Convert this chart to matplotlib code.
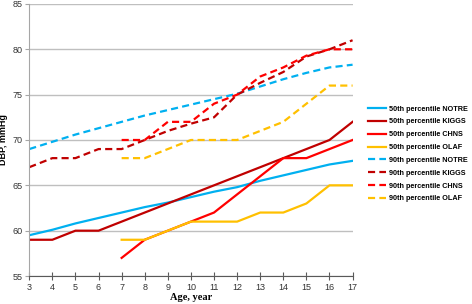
import numpy as np
import matplotlib.pyplot as plt

# ages
age = list(range(3, 18))
age7 = list(range(7, 18))

# 50th percentile
p50_notre = [59.5, 60.1, 60.8, 61.4, 62.0, 62.6, 63.1, 63.7, 64.3, 64.8, 65.5, 66.1, 66.7, 67.3, 67.7]
p50_kiggs = [59, 59, 60, 60, 61, 62, 63, 64, 65, 66, 67, 68, 69, 70, 72]
p50_chns = [57, 59, 60, 61, 62, 64, 66, 68, 68, 69, 70]
p50_olaf = [59, 59, 60, 61, 61, 61, 62, 62, 63, 65, 65]

# 90th percentile
p90_notre = [69, 69.8, 70.6, 71.3, 72.0, 72.7, 73.3, 73.9, 74.5, 75.1, 75.9, 76.7, 77.4, 78.0, 78.3]
p90_kiggs = [67, 68, 68, 69, 69, 70, 71, 71.8, 72.5, 75, 76.3, 77.5, 79.2, 80, 81]
p90_chns = [70, 70, 72, 72, 74, 75, 77, 78, 79.3, 80, 80]
p90_olaf = [68, 68, 69, 70, 70, 70, 71, 72, 74, 76, 76]

c_notre = '#00b0f0'
c_kiggs = '#c00000'
c_chns = '#ff0000'
c_olaf = '#ffc000'

plt.rcParams['font.family'] = 'Liberation Sans'

fig = plt.figure(figsize=(4.72, 3.04), dpi=100)
ax = fig.add_axes([0.062, 0.092, 0.685, 0.895])

lw = 1.6
dash = (3.2, 1.9)
ax.plot(age, p50_notre, color=c_notre, lw=lw, label='50th percentile NOTRE')
ax.plot(age, p50_kiggs, color=c_kiggs, lw=lw, label='50th percentile KIGGS')
ax.plot(age7, p50_chns, color=c_chns, lw=lw, label='50th percentile CHNS')
ax.plot(age7, p50_olaf, color=c_olaf, lw=lw, label='50th percentile OLAF')
ax.plot(age, p90_notre, color=c_notre, lw=lw, dashes=dash, label='90th percentile NOTRE')
ax.plot(age, p90_kiggs, color=c_kiggs, lw=lw, dashes=dash, label='90th percentile KIGGS')
ax.plot(age7, p90_chns, color=c_chns, lw=lw, dashes=dash, label='90th percentile CHNS')
ax.plot(age7, p90_olaf, color=c_olaf, lw=lw, dashes=dash, label='90th percentile OLAF')

ax.set_xlim(3, 17)
ax.set_ylim(55, 85)
ax.set_xticks(age)
ax.set_yticks([55, 60, 65, 70, 75, 80, 85])
ax.yaxis.grid(True, color='#bfbfbf', lw=1)
ax.set_axisbelow(True)

for s in ['top', 'right']:
    ax.spines[s].set_visible(False)
ax.spines['left'].set_color('#a6a6a6')
ax.spines['bottom'].set_color('#595959')
ax.tick_params(axis='x', direction='inout', length=6, color='#595959', labelsize=6.5, pad=2,
               labelcolor='#333333')
ax.tick_params(axis='y', direction='out', length=3, color='#a6a6a6', labelsize=6.5, pad=2,
               labelcolor='#333333')

ax.set_xlabel('Age, year', family='Liberation Serif', fontweight='bold', fontsize=7.5, labelpad=1)
ax.set_ylabel('DBP, mmHg', fontweight='bold', fontsize=6.5, labelpad=3)

leg = ax.legend(loc='upper left', bbox_to_anchor=(1.04, 0.637), frameon=False,
                prop={'size': 5.2, 'weight': 'bold'}, handlelength=2.5,
                handletextpad=0.4, labelspacing=0.8, borderaxespad=0)

fig.savefig('out.png', dpi=100)
